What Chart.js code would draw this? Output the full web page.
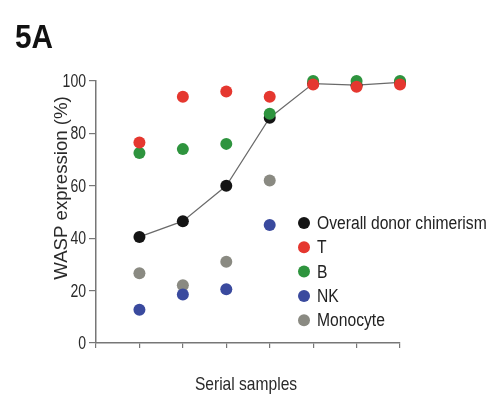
<!DOCTYPE html>
<html>
<head>
<meta charset="utf-8">
<script src="https://cdn.jsdelivr.net/npm/chart.js@4/dist/chart.umd.min.js"></script>
<style>
  body { margin: 0; background: #fff; }
  #wrap { width: 489px; height: 396px; }
</style>
</head>
<body>
<div id="wrap"><canvas id="chimerism" width="489" height="396"></canvas></div>
<script>
const samples = [1, 2, 3, 4, 5, 6, 7];
const overall = [40.5, 46.5, 60, 86, 99, 98.4, 99.5];
const tCells = [76.5, 94, 96, 94, 98.7, 97.8, 98.7];
const bCells = [72.5, 74, 76, 87.5, 100, 100, 100];
const nkCells = [12.7, 18.5, 20.5, 45];
const monocytes = [26.6, 22, 31, 62];
const yTicks = [0, 20, 40, 60, 80, 100];

// no narrow face installed, so text gets squeezed horizontally by hand
const FONT = "'Liberation Sans', Arial, sans-serif";

function narrow(ctx, text, x, y, font, squeeze, align) {
    ctx.save();
    ctx.translate(x, y);
    ctx.scale(squeeze, 1);
    ctx.font = font;
    ctx.textAlign = align || 'left';
    ctx.fillText(text, 0, 0);
    ctx.restore();
}

const pts = vals => vals.map((v, i) => ({ x: samples[i], y: v }));

// lower order is painted on top
const dot = (label, vals, color, order) => ({
    label: label,
    data: pts(vals),
    order: order,
    showLine: false,
    clip: false,
    pointRadius: 6,
    pointBackgroundColor: color,
    pointBorderColor: color,
    pointBorderWidth: 0,
});

const extras = {
    id: 'extras',
    afterDraw(chart) {
        const ctx = chart.ctx;
        const yScale = chart.scales.y;
        const xScale = chart.scales.x;

        ctx.save();
        ctx.textBaseline = 'alphabetic';
        ctx.fillStyle = '#111';
        narrow(ctx, '5A', 15, 48, 'bold 33px ' + FONT, 0.9);

        // y tick labels
        ctx.fillStyle = '#2a2a2a';
        ctx.textBaseline = 'middle';
        yScale.ticks.forEach(t => {
            narrow(ctx, String(t.value), 86, yScale.getPixelForValue(t.value) + 1, '18px ' + FONT, 0.78, 'right');
        });

        // axis titles
        narrow(ctx, 'Serial samples', (xScale.left + xScale.right) / 2 - 2, 385, '19px ' + FONT, 0.82, 'center');
        ctx.translate(62, 188);
        ctx.rotate(-Math.PI / 2);
        narrow(ctx, 'WASP expression (%)', 0, 0, '19px ' + FONT, 0.98, 'center');
        ctx.restore();

        // legend inside the plot
        ctx.save();
        ctx.textBaseline = 'middle';
        chart.data.datasets.forEach((ds, i) => {
            const y = 223 + i * 24.3;
            ctx.beginPath();
            ctx.arc(304, y, 6, 0, Math.PI * 2);
            ctx.fillStyle = ds.pointBackgroundColor;
            ctx.fill();
            ctx.fillStyle = '#222';
            narrow(ctx, ds.label, 317, y + 1, '18px ' + FONT, 0.87);
        });
        ctx.restore();
    }
};

new Chart(document.getElementById('chimerism'), {
    type: 'scatter',
    data: {
        datasets: [
            Object.assign(dot('Overall donor chimerism', overall, '#141414', 2), {
                showLine: true,
                borderColor: '#6a6a6a',
                borderWidth: 1.2,
            }),
            dot('T', tCells, '#e5372f', 0),
            dot('B', bCells, '#2e943e', 1),
            dot('NK', nkCells, '#3a4a9e', 3),
            dot('Monocyte', monocytes, '#8a8a82', 4),
        ]
    },
    options: {
        responsive: false,
        animation: false,
        layout: { padding: { top: 81, left: 15, right: 89, bottom: 0 } },
        plugins: {
            legend: { display: false },
            tooltip: { enabled: false },
        },
        scales: {
            x: {
                type: 'linear',
                min: 0,
                max: 7,
                ticks: { stepSize: 1, display: false },
                grid: { drawOnChartArea: false, drawTicks: true, tickLength: 5, color: '#777', lineWidth: 1.2 },
                border: { color: '#777', width: 1.5 },
                afterFit(axis) { axis.height = 53; },
            },
            y: {
                min: 0,
                max: 100,
                afterBuildTicks(axis) { axis.ticks = yTicks.map(v => ({ value: v })); },
                ticks: { display: false },
                grid: { drawOnChartArea: false, drawTicks: true, tickLength: 7, color: '#777', lineWidth: 1.2 },
                border: { color: '#777', width: 1.5 },
                afterFit(axis) { axis.width = 81; },
            }
        }
    },
    plugins: [extras]
});
</script>
</body>
</html>
